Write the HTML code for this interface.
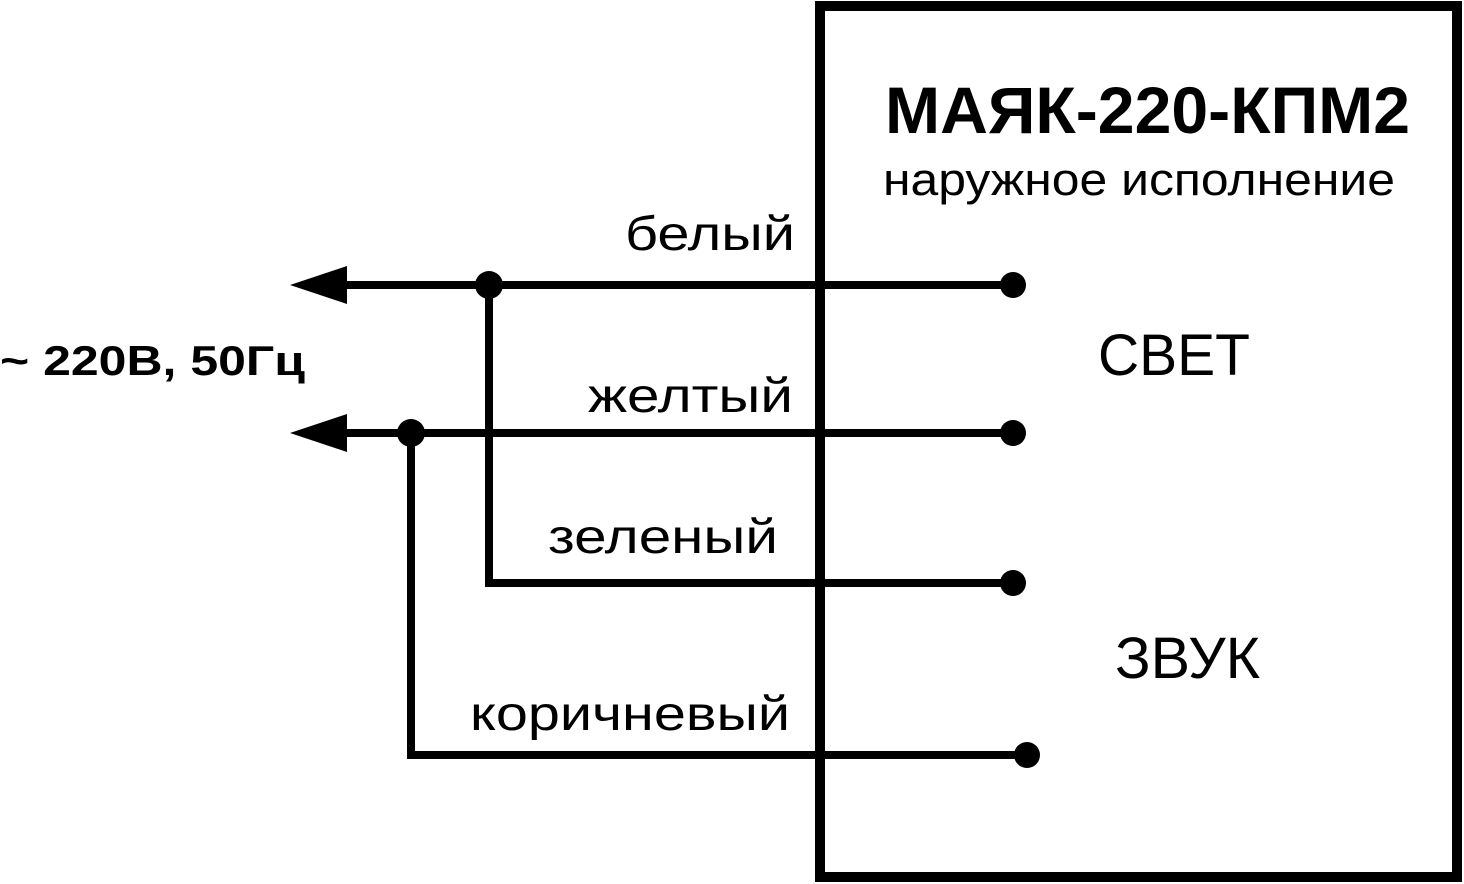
<!DOCTYPE html>
<html><head><meta charset="utf-8"><style>html,body{margin:0;padding:0;background:#fff}svg{display:block}</style></head>
<body>
<svg width="1464" height="884" viewBox="0 0 1464 884" xmlns="http://www.w3.org/2000/svg" font-family="Liberation Sans, sans-serif">
<rect x="820" y="6" width="637" height="871" fill="none" stroke="#000" stroke-width="10"/>
<g stroke="#000" stroke-width="8" fill="none">
<line x1="340" y1="285" x2="1013" y2="285"/>
<line x1="340" y1="433" x2="1013" y2="433"/>
<polyline points="489,285 489,583 1013,583"/>
<polyline points="411,433 411,755 1027,755"/>
</g>
<polygon points="290,285 347,266 347,304" fill="#000"/>
<polygon points="290,433 347,414 347,452" fill="#000"/>
<g fill="#000">
<circle cx="489" cy="285" r="14"/><circle cx="411" cy="433" r="14"/>
<circle cx="1013" cy="285" r="13"/><circle cx="1013" cy="433" r="13"/>
<circle cx="1013" cy="583" r="13"/><circle cx="1027" cy="755" r="13"/>
</g>
<g fill="#000">
<text x="885" y="133" font-size="66" font-weight="bold" textLength="525" lengthAdjust="spacingAndGlyphs">МАЯК-220-КПМ2</text>
<text x="883" y="195" font-size="45" textLength="512" lengthAdjust="spacingAndGlyphs">наружное исполнение</text>
<text x="625" y="250" font-size="48" textLength="170" lengthAdjust="spacingAndGlyphs">белый</text>
<text x="588" y="412" font-size="48" textLength="205" lengthAdjust="spacingAndGlyphs">желтый</text>
<text x="548" y="553" font-size="48" textLength="230" lengthAdjust="spacingAndGlyphs">зеленый</text>
<text x="470" y="730" font-size="48" textLength="320" lengthAdjust="spacingAndGlyphs">коричневый</text>
<text x="1098" y="375" font-size="58" textLength="152" lengthAdjust="spacingAndGlyphs">СВЕТ</text>
<text x="1115" y="678" font-size="58" textLength="145" lengthAdjust="spacingAndGlyphs">ЗВУК</text>
<text x="0" y="375" font-size="42" font-weight="bold" textLength="305" lengthAdjust="spacingAndGlyphs">~ 220В, 50Гц</text>
</g>
</svg>
</body></html>
